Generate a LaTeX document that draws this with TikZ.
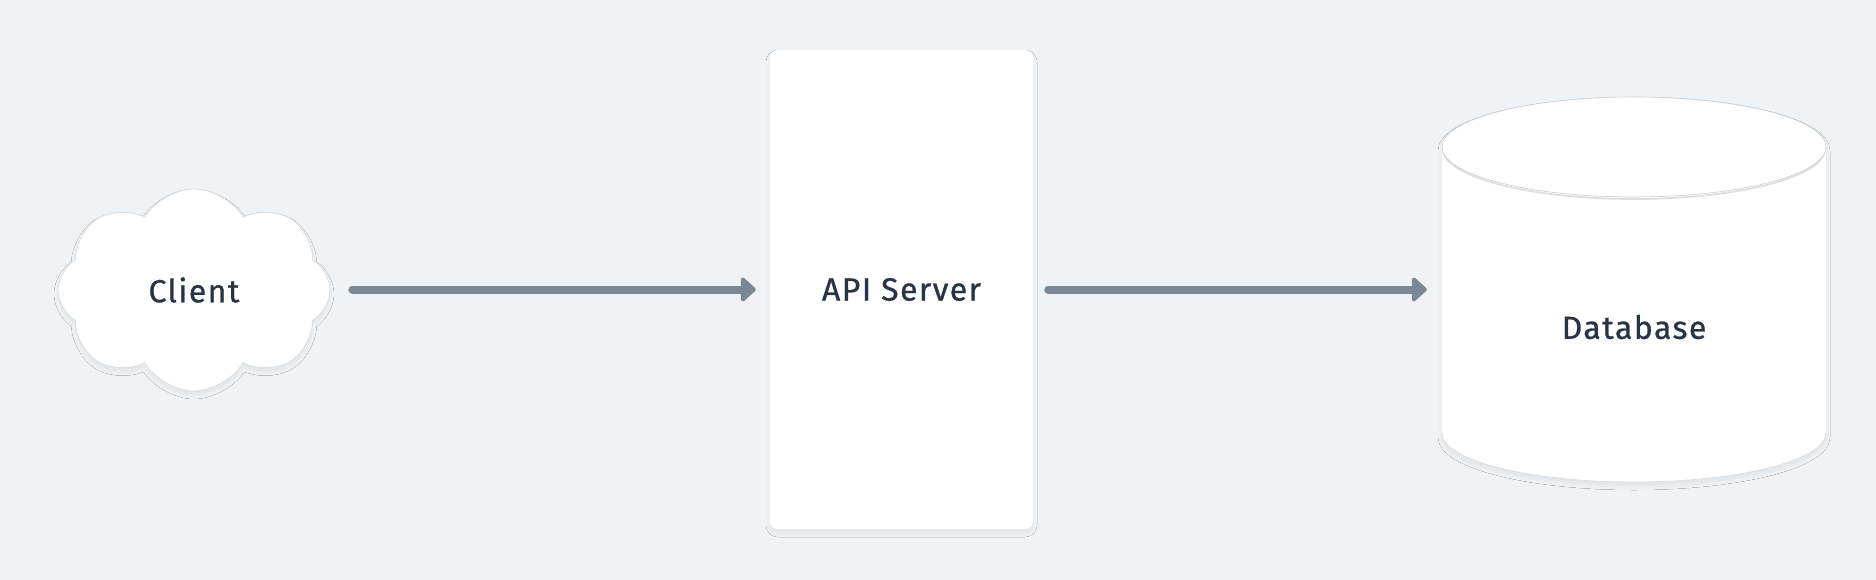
\documentclass[tikz,border=0pt]{standalone}
\usepackage{fontspec}
\setmainfont{Fira Sans}[LetterSpace=4.5, FakeBold=0.8]
\usetikzlibrary{arrows.meta,positioning,shapes.symbols,shadows.blur}
\definecolor{bgcol}{HTML}{EFF3F6}
\definecolor{inkcol}{HTML}{263445}
\definecolor{linkcol}{HTML}{7A8896}
\definecolor{edgecol}{HTML}{DDE0E3}
\tikzset{
  txt/.style    = {font=\fontsize{32}{38}\selectfont, text=inkcol},
  soft/.style   = {blur shadow={shadow xshift=0pt, shadow yshift=-4pt,
                   shadow blur radius=4pt, shadow opacity=6}},
  panel/.style  = {fill=white, rounded corners=8pt, soft, inner sep=0pt},
  puff/.style   = {cloud, cloud puffs=8, cloud puff arc=120, aspect=1.3,
                   fill=white, draw=edgecol, line width=0.8pt, soft,
                   minimum width=272pt, minimum height=202pt},
  flow/.style   = {line width=8pt, draw=linkcol, line cap=round,
                   -{Triangle[length=16pt,width=28pt,round]}},
}
\begin{document}
\begin{tikzpicture}[x=1pt,y=-1pt]
  \fill[bgcol] (0,0) rectangle (1876,580);
  \useasboundingbox (0,0) rectangle (1876,580);
  % client cloud
  \node[puff, txt, shape border rotate=8] (client) at (194,290) {Client};
  % server panel
  \node[panel, txt, minimum width=263pt, minimum height=479pt] (server) at (901.5,289.5) {API Server};
  % database cylinder
  \node[minimum width=384pt, minimum height=385pt, inner sep=0pt] (db) at (1634,289.5) {};
  \path[fill=white, soft] (1442,147) -- (1442,433) arc (180:0:192 and 49)
    -- (1826,147) arc (0:-180:192 and 50) -- cycle;
  \draw[edgecol, line width=0.8pt] (1442,433) arc (180:0:192 and 49);
  \draw[edgecol, line width=1.8pt] (1443,149) arc (180:0:191 and 50);
  \draw[edgecol!80!gray, fill=white, line width=0.6pt] (1634,147) ellipse (192 and 50);
  \node[txt] (dblabel) at (1634,327) {Database};
  % connectors
  \draw[flow, shorten <=22pt, shorten >=14pt] (client.east |- server.west) -- (server.west);
  \draw[flow, shorten <=15pt, shorten >=15pt] (server.east) -- (db.west);
\end{tikzpicture}
\end{document}
